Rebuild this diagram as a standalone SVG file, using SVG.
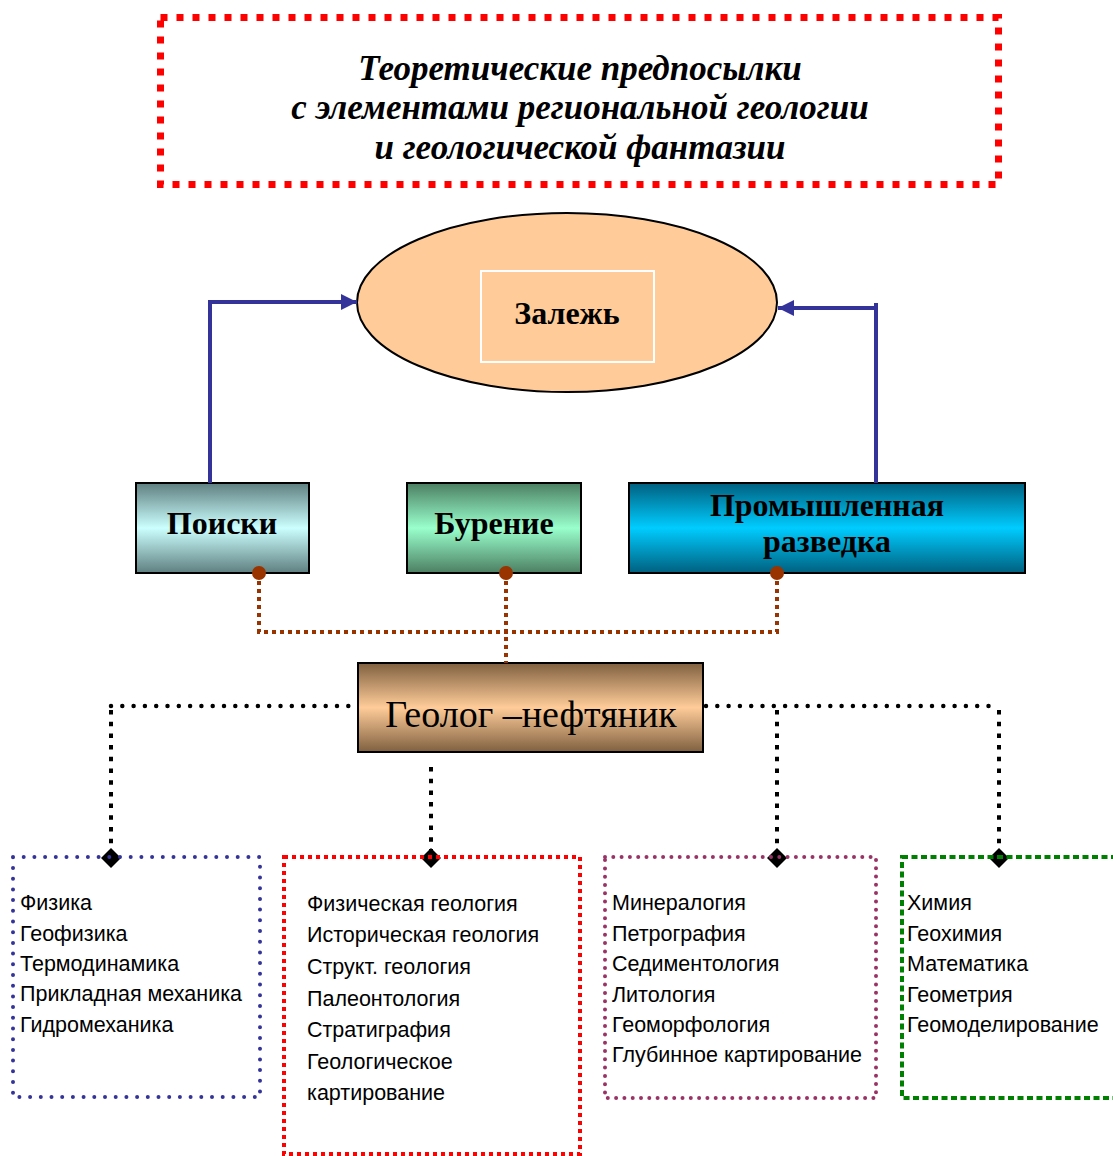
<svg xmlns="http://www.w3.org/2000/svg" width="1113" height="1156" viewBox="0 0 1113 1156">
<style>
.title{font-family:"Liberation Serif",serif;font-weight:bold;font-style:italic;font-size:35px;text-anchor:middle;fill:#000}
.nt{font-family:"Liberation Serif",serif;font-weight:bold;font-size:32px;text-anchor:middle;fill:#000}
.geo{font-family:"Liberation Serif",serif;font-size:38px;text-anchor:middle;fill:#000}
.li{font-family:"Liberation Sans",Arial,sans-serif;font-size:21.5px;fill:#000}
.box{stroke:#000;stroke-width:2}
.blue{fill:none;stroke:#333399;stroke-width:4}
.brown{fill:none;stroke:#993300;stroke-width:4;stroke-dasharray:4 4}
.bdot{fill:none;stroke:#000;stroke-width:4.5;stroke-linecap:round;stroke-dasharray:0 11.3}
.bdash{fill:none;stroke:#000;stroke-width:4;stroke-dasharray:4.5 7.2}
</style>
<defs>
<linearGradient id="gP" x1="0" y1="0" x2="0" y2="1"><stop offset="0" stop-color="#5F7F80"/><stop offset="0.5" stop-color="#CCFFFF"/><stop offset="1" stop-color="#5F7F80"/></linearGradient>
<linearGradient id="gB" x1="0" y1="0" x2="0" y2="1"><stop offset="0" stop-color="#4C7F62"/><stop offset="0.5" stop-color="#99FFCC"/><stop offset="1" stop-color="#4C7F62"/></linearGradient>
<linearGradient id="gR" x1="0" y1="0" x2="0" y2="1"><stop offset="0" stop-color="#00607F"/><stop offset="0.5" stop-color="#00CCFF"/><stop offset="1" stop-color="#00607F"/></linearGradient>
<linearGradient id="gG" x1="0" y1="0" x2="0" y2="1"><stop offset="0" stop-color="#7F6040"/><stop offset="0.5" stop-color="#FFCC99"/><stop offset="1" stop-color="#7F6040"/></linearGradient>
<marker id="arr" viewBox="0 0 10 10" refX="10" refY="5" markerWidth="4" markerHeight="4" orient="auto" markerUnits="strokeWidth"><path d="M0,0 L10,5 L0,10 z" fill="#333399"/></marker>
</defs>

<g id="title">
<rect x="160.5" y="17.5" width="838" height="167" fill="none" stroke="#FF0000" stroke-width="7" stroke-dasharray="7 9"/>
<text class="title" x="580" y="80">Теоретические предпосылки</text>
<text class="title" x="580" y="119">с элементами региональной геологии</text>
<text class="title" x="580" y="159">и геологической фантазии</text>
</g>

<g id="zalezh">
<ellipse cx="567" cy="302.5" rx="210" ry="89.5" fill="#FFCC99" stroke="#000" stroke-width="2"/>
<rect x="481" y="271" width="173" height="91" fill="none" stroke="#FFFFFF" stroke-width="2"/>
<text class="nt" x="567" y="324">Залежь</text>
</g>

<g id="poiski">
<rect class="box" x="136" y="483" width="173" height="90" fill="url(#gP)"/>
<text class="nt" x="222" y="534">Поиски</text>
</g>

<g id="burenie">
<rect class="box" x="407" y="483" width="174" height="90" fill="url(#gB)"/>
<text class="nt" x="494" y="534">Бурение</text>
</g>

<g id="razvedka">
<rect class="box" x="629" y="483" width="396" height="90" fill="url(#gR)"/>
<text class="nt" x="827" y="516">Промышленная</text>
<text class="nt" x="827" y="552">разведка</text>
</g>

<g id="geolog">
<rect class="box" x="358" y="663" width="345" height="89" fill="url(#gG)"/>
<text class="geo" x="531" y="727">Геолог –нефтяник</text>
</g>

<g id="connectors">
<path class="blue" d="M210,483 V302 H357" marker-end="url(#arr)"/>
<path class="blue" d="M876,483 V303"/>
<path class="blue" d="M876,308 H778" marker-end="url(#arr)"/>
<path class="brown" d="M259,573 V632 H777 V573"/>
<path class="brown" d="M506,573 V663"/>
<circle cx="259" cy="573" r="7" fill="#993300"/>
<circle cx="506" cy="573" r="7" fill="#993300"/>
<circle cx="777" cy="573" r="7" fill="#993300"/>
<path class="bdot" d="M111,706 H356"/>
<path class="bdot" d="M706,706 H999"/>
<path class="bdash" d="M111,710 V850"/>
<path class="bdash" d="M777,710 V850"/>
<path class="bdash" d="M999,710 V850"/>
<path class="bdash" d="M431,767 V850"/>
<polygon points="111,848 121,858 111,868 101,858" fill="#000"/>
<polygon points="431,848 441,858 431,868 421,858" fill="#000"/>
<polygon points="777,848 787,858 777,868 767,858" fill="#000"/>
<polygon points="999,848 1009,858 999,868 989,858" fill="#000"/>
</g>

<g id="physics">
<rect x="13" y="857" width="247" height="240" fill="none" stroke="#333399" stroke-width="4" stroke-linecap="round" stroke-dasharray="0 10.7"/>
<text class="li" x="20" y="910">Физика</text>
<text class="li" x="20" y="941">Геофизика</text>
<text class="li" x="20" y="971">Термодинамика</text>
<text class="li" x="20" y="1001">Прикладная механика</text>
<text class="li" x="20" y="1032">Гидромеханика</text>
</g>

<g id="geology">
<rect x="284" y="857" width="296" height="297" fill="none" stroke="#FF0000" stroke-width="4" stroke-dasharray="4 4"/>
<text class="li" x="307" y="911">Физическая геология</text>
<text class="li" x="307" y="942">Историческая геология</text>
<text class="li" x="307" y="974">Структ. геология</text>
<text class="li" x="307" y="1006">Палеонтология</text>
<text class="li" x="307" y="1037">Стратиграфия</text>
<text class="li" x="307" y="1069">Геологическое</text>
<text class="li" x="307" y="1100">картирование</text>
</g>

<g id="mineralogy">
<rect x="605" y="857" width="271" height="241" fill="none" stroke="#993366" stroke-width="4" stroke-linecap="round" stroke-dasharray="0 8.3"/>
<text class="li" x="612" y="910">Минералогия</text>
<text class="li" x="612" y="941">Петрография</text>
<text class="li" x="612" y="971">Седиментология</text>
<text class="li" x="612" y="1002">Литология</text>
<text class="li" x="612" y="1032">Геоморфология</text>
<text class="li" x="612" y="1062">Глубинное картирование</text>
</g>

<g id="chemistry">
<rect x="902" y="857" width="230" height="241" fill="none" stroke="#008000" stroke-width="4" stroke-dasharray="6 3.5"/>
<text class="li" x="907" y="910">Химия</text>
<text class="li" x="907" y="941">Геохимия</text>
<text class="li" x="907" y="971">Математика</text>
<text class="li" x="907" y="1002">Геометрия</text>
<text class="li" x="907" y="1032">Геомоделирование</text>
</g>
</svg>
